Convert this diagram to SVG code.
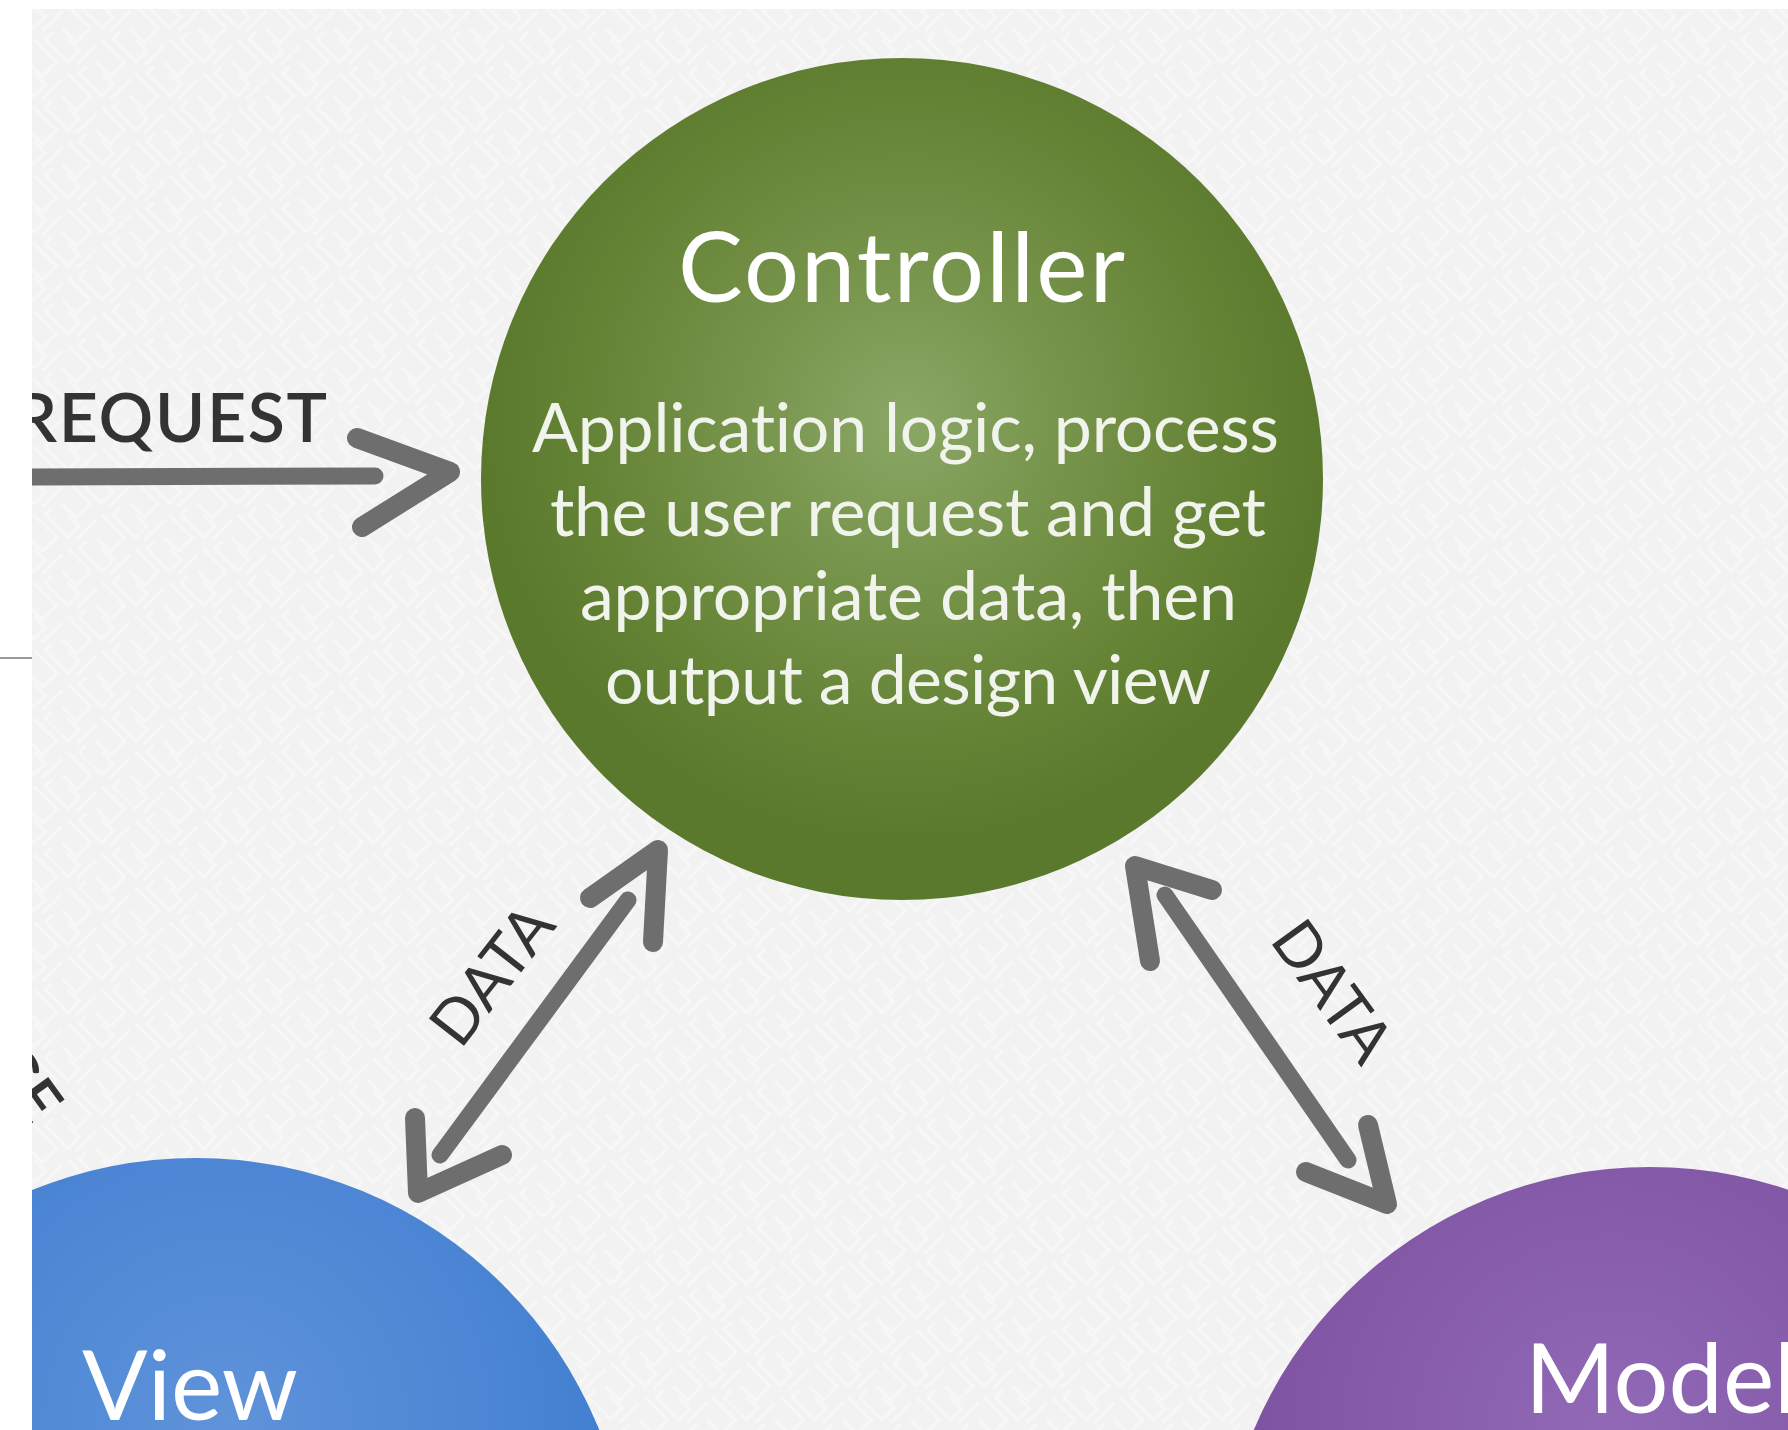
<svg xmlns="http://www.w3.org/2000/svg" width="1788" height="1430" viewBox="0 0 1788 1430">
  <defs>
    <style>
      text { font-variant-ligatures: none; font-feature-settings: "liga" 0, "clig" 0; }
      .title { font-family: Lato, "Open Sans", "Liberation Sans", sans-serif; fill: #ffffff; font-size: 97px; font-weight: 400; }
      .body { font-family: Lato, "Open Sans", "Liberation Sans", sans-serif; fill: #f1f4ec; font-size: 68px; font-weight: 400; text-anchor: middle; }
      .label { font-family: Lato, "Open Sans", "Liberation Sans", sans-serif; fill: #333333; }
      .arrow { fill: none; stroke: #6e6e6e; stroke-linecap: round; stroke-linejoin: round; }
      .shaft { stroke-width: 17; }
      .head { stroke-width: 20; }
    </style>
    <clipPath id="panelClip">
      <rect x="32" y="9" width="1756" height="1421"/>
    </clipPath>
    <pattern id="fret" width="48" height="48" patternUnits="userSpaceOnUse" patternTransform="rotate(45)">
      <rect width="48" height="48" fill="#f2f2f2"/>
      <g fill="none" stroke="#f7f7f7" stroke-width="3.5">
        <path d="M4 4 H36 V24 H16"/>
        <path d="M28 28 H44 V44 H12 V34"/>
        <path d="M4 12 V40"/>
      </g>
    </pattern>
    <radialGradient id="gCtrl" gradientUnits="userSpaceOnUse" cx="905" cy="420" r="425">
      <stop offset="0" stop-color="#8ba766"/>
      <stop offset="0.35" stop-color="#78954d"/>
      <stop offset="0.75" stop-color="#658335"/>
      <stop offset="1" stop-color="#5b792c"/>
    </radialGradient>
    <radialGradient id="gView" gradientUnits="userSpaceOnUse" cx="225" cy="1420" r="440">
      <stop offset="0" stop-color="#5f93da"/>
      <stop offset="0.6" stop-color="#4c86d4"/>
      <stop offset="1" stop-color="#3e7ccf"/>
    </radialGradient>
    <radialGradient id="gModel" gradientUnits="userSpaceOnUse" cx="1610" cy="1430" r="440">
      <stop offset="0" stop-color="#9169b6"/>
      <stop offset="0.6" stop-color="#845aa8"/>
      <stop offset="1" stop-color="#784d9e"/>
    </radialGradient>
  </defs>

  <rect x="0" y="0" width="1788" height="1430" fill="#ffffff"/>
  <line x1="0" y1="658" x2="32" y2="658" stroke="#9a9a9a" stroke-width="2"/>

  <g clip-path="url(#panelClip)">
    <rect id="background" x="32" y="9" width="1756" height="1421" fill="url(#fret)"/>

    <g id="node-controller">
      <circle cx="902" cy="479" r="421" fill="url(#gCtrl)"/>
      <text class="title" x="901.5" y="302" text-anchor="middle" textLength="447" lengthAdjust="spacing">Controller</text>
      <text class="body" x="905.5" y="452" textLength="747" lengthAdjust="spacing">Application logic, process</text>
      <text class="body" x="908" y="536" textLength="716" lengthAdjust="spacing">the user request and get</text>
      <text class="body" x="908.5" y="620" textLength="657" lengthAdjust="spacing">appropriate data, then</text>
      <text class="body" x="908" y="704" textLength="606" lengthAdjust="spacing">output a design view</text>
    </g>

    <g id="node-view">
      <circle cx="196" cy="1593" r="435" fill="url(#gView)"/>
      <text class="title" x="82" y="1420" font-size="96">View</text>
    </g>

    <g id="node-model">
      <circle cx="1650" cy="1597" r="430" fill="url(#gModel)"/>
      <text class="title" x="1525" y="1413">Model</text>
    </g>

    <g id="connectors">
      <g id="edge-request">
        <path class="arrow shaft" d="M10 477 L375 476"/>
        <path class="arrow head" d="M357 438 L450 472 L362 527"/>
      </g>
      <g id="edge-controller-view">
        <path class="arrow shaft" d="M628 900 L440 1155"/>
        <path class="arrow head" d="M590 898 L658 850 L653 942"/>
        <path class="arrow head" d="M415 1118 L418 1193 L502 1155"/>
      </g>
      <g id="edge-controller-model">
        <path class="arrow shaft" d="M1165 895 L1348 1160"/>
        <path class="arrow head" d="M1212 890 L1135 866 L1150 961"/>
        <path class="arrow head" d="M1368 1125 L1387 1204 L1306 1172"/>
      </g>
    </g>

    <g id="labels">
      <text class="label" x="327" y="442" text-anchor="end" font-size="68" font-weight="600" textLength="313" lengthAdjust="spacing">REQUEST</text>
      <text class="label" font-size="62" text-anchor="middle" transform="translate(509 988) rotate(-52)">DATA</text>
      <text class="label" font-size="62" text-anchor="middle" transform="translate(1315 1004) rotate(54)">DATA</text>
      <text class="label" font-size="62" font-weight="600" text-anchor="end" transform="translate(30 1128) rotate(54)">GE</text>
    </g>
  </g>
</svg>
